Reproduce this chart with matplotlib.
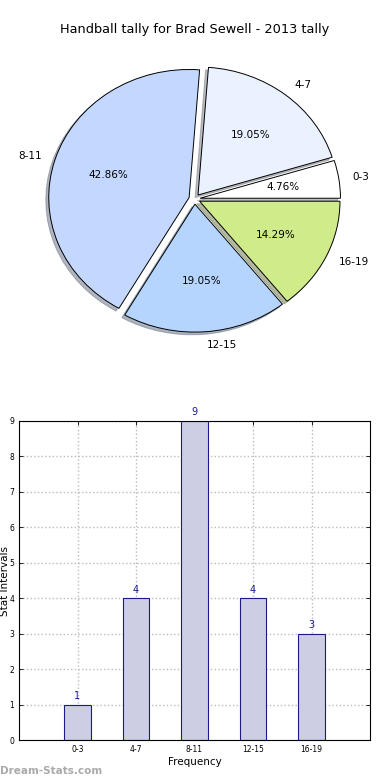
import matplotlib
matplotlib.use('Agg')
import matplotlib.pyplot as plt
import numpy as np

###############################
# data
###############################
intervals = ['0-3', '4-7', '8-11', '12-15', '16-19']
counts = [1, 4, 9, 4, 3]
pie_colours = ['#ffffff', '#eaf1ff', '#c4d8ff', '#b5d5ff', '#d0eb8a']
title = 'Handball tally for Brad Sewell - 2013 tally'

###############################
# figure
###############################
fig = plt.figure(figsize=(3.9, 7.8), dpi=100)

# pie chart
ax1 = fig.add_axes([19/390, (780-359)/780, 351/390, 320/780])
wedges, texts, autotexts = ax1.pie(counts, labels=intervals, colors=pie_colours,
                                   explode=[0.04]*len(counts), autopct='%1.2f%%',
                                   shadow={'ox': -0.015, 'oy': -0.015, 'shade': 0.5},
                                   startangle=0, counterclock=True,
                                   wedgeprops={'edgecolor': 'black', 'linewidth': 0.7},
                                   textprops={'fontsize': 7.5})
ax1.set_aspect('auto')
ax1.set_xlim(-1.25, 1.25)
ax1.set_ylim(-1.25, 1.25)
fig.text(0.5, 1 - 30/780, title, ha='center', va='center', fontsize=9.3)

# bar chart
ax2 = fig.add_axes([19/390, (780-740)/780, 351/390, 319/780])
x_pos = np.arange(len(intervals))
bars = ax2.bar(x_pos, counts, width=0.45, color='#cdcde3', edgecolor='#1a1a8c',
               linewidth=0.8, zorder=2)
for xp, c in zip(x_pos, counts):
    ax2.text(xp, c + 0.1, str(c), ha='center', va='bottom', fontsize=7,
             color='#1a1a8c', zorder=3)

ax2.set_xlim(-1, 5)
ax2.set_ylim(0, 9)
ax2.set_xticks(x_pos)
ax2.set_xticklabels(intervals, fontsize=5.5)
ax2.set_yticks(range(10))
ax2.tick_params(axis='y', labelsize=5.5)
ax2.tick_params(direction='in', length=3, width=0.6, top=True, right=True)
ax2.grid(True, linestyle=':', color='#bbbbbb', linewidth=1.0, zorder=0)
ax2.set_axisbelow(True)
ax2.set_xlabel('Frequency', fontsize=7.5, labelpad=2)
ax2.set_ylabel('Stat Intervals', fontsize=7.5)
ax2.yaxis.set_label_coords(-0.026, 0.5)
for sp in ax2.spines.values():
    sp.set_linewidth(0.8)

fig.text(0.0, 1 - 771/780, 'Dream-Stats.com', ha='left', va='center',
         fontsize=7.5, color='#aaaaaa', fontweight='bold')

plt.savefig('out.png', dpi=100)
